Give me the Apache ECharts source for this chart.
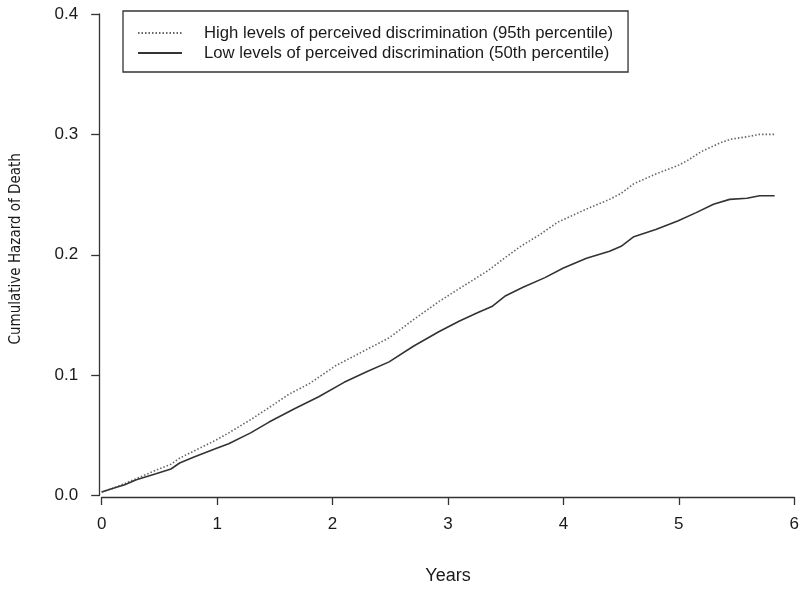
<!DOCTYPE html>
<html>
<head>
<meta charset="utf-8">
<script src="https://cdn.jsdelivr.net/npm/echarts@6/dist/echarts.min.js"></script>
<style>html,body{margin:0;padding:0;background:#fff}#c{width:802px;height:590px}</style>
</head>
<body>
<div id="c"></div>
<script>
// Years
var highX = [0.0,0.1,0.2,0.3,0.47,0.6,0.675,0.8,0.99,1.1,1.29,1.45,1.62,1.8,2.03,2.25,2.49,2.7,2.92,3.1,3.35,3.5,3.63,3.8,3.95,4.2,4.4,4.5,4.61,4.8,4.99,5.07,5.2,5.36,5.45,5.59,5.7,5.83];
var highY = [0.003,0.006,0.010,0.014,0.021,0.026,0.031,0.037,0.046,0.052,0.063,0.073,0.084,0.093,0.108,0.119,0.131,0.146,0.161,0.172,0.187,0.198,0.207,0.217,0.227,0.238,0.246,0.251,0.259,0.267,0.274,0.278,0.286,0.293,0.296,0.298,0.300,0.300];
var lowX = [0.0,0.1,0.2,0.3,0.47,0.6,0.675,0.8,0.99,1.1,1.29,1.45,1.67,1.88,2.1,2.3,2.49,2.7,2.92,3.1,3.26,3.38,3.5,3.65,3.84,4.0,4.2,4.4,4.5,4.61,4.8,4.99,5.15,5.30,5.44,5.59,5.7,5.83];
var lowY = [0.003,0.006,0.009,0.013,0.018,0.022,0.027,0.032,0.039,0.043,0.052,0.061,0.072,0.082,0.094,0.103,0.111,0.124,0.136,0.145,0.152,0.157,0.166,0.173,0.181,0.189,0.197,0.203,0.207,0.215,0.221,0.228,0.235,0.242,0.246,0.247,0.249,0.249];
var seriesNames = ['High levels of perceived discrimination (95th percentile)', 'Low levels of perceived discrimination (50th percentile)'];
var xTicks = ['0','1','2','3','4','5','6'];
var yTicks = ['0.0','0.1','0.2','0.3','0.4'];

function zip(xs, ys){ return xs.map(function(x,i){ return [x, ys[i]]; }); }

var chart = echarts.init(document.getElementById('c'), null, {renderer:'canvas'});
var font = 'Liberation Sans, Arial, Helvetica, sans-serif';
var narrow = '"DejaVu Sans Condensed", "Liberation Sans", sans-serif';
chart.setOption({
  animation:false,
  backgroundColor:'#fff',
  grid:{left:101.7, right:4, top:14, bottom:92.5, containLabel:false},
  xAxis:{
    type:'value', min:0, max:6, interval:1, offset:1.5,
    name:'Years', nameLocation:'middle', nameGap:70,
    nameTextStyle:{fontFamily:font, fontSize:18, color:'#1a1a1a'},
    axisLine:{show:true, onZero:false, lineStyle:{color:'#333', width:1.3}},
    axisTick:{show:true, length:8, lineStyle:{color:'#333', width:1.3}},
    axisLabel:{fontFamily:font, fontSize:17, color:'#1a1a1a', margin:19, formatter:function(v){return xTicks[Math.round(v)];}},
    splitLine:{show:false}
  },
  yAxis:{
    type:'value', min:0, max:0.4, interval:0.1, offset:2.5,
    name:'Cumulative Hazard of Death', nameLocation:'middle', nameGap:76, nameRotate:90,
    nameTextStyle:{fontFamily:narrow, fontSize:15, color:'#1a1a1a', padding:[0,0,0,12]},
    axisLine:{show:true, onZero:false, lineStyle:{color:'#333', width:1.3}},
    axisTick:{show:true, length:8, lineStyle:{color:'#333', width:1.3}},
    axisLabel:{fontFamily:font, fontSize:17, color:'#1a1a1a', margin:21, formatter:function(v){return yTicks[Math.round(v*10)];}},
    splitLine:{show:false}
  },
  legend:{
    orient:'vertical', left:123, top:11,
    padding:[13.5,15,10.5,14], itemGap:3, itemWidth:44, itemHeight:14,
    borderColor:'#333', borderWidth:1.3, backgroundColor:'#fff',
    itemStyle:{opacity:0},
    textStyle:{fontFamily:font, fontSize:16.7, lineHeight:17, color:'#1a1a1a', padding:[0,0,0,17]},
    data:seriesNames
  },
  series:[
    {name:seriesNames[0], type:'line', data:zip(highX, highY), symbol:'none', smooth:false,
     lineStyle:{color:'#666', width:1.6, type:[1.5,2]}, itemStyle:{color:'#666'}},
    {name:seriesNames[1], type:'line', data:zip(lowX, lowY), symbol:'none', smooth:false,
     lineStyle:{color:'#333', width:1.6, type:'solid'}, itemStyle:{color:'#333'}}
  ]
});
</script>
</body>
</html>
